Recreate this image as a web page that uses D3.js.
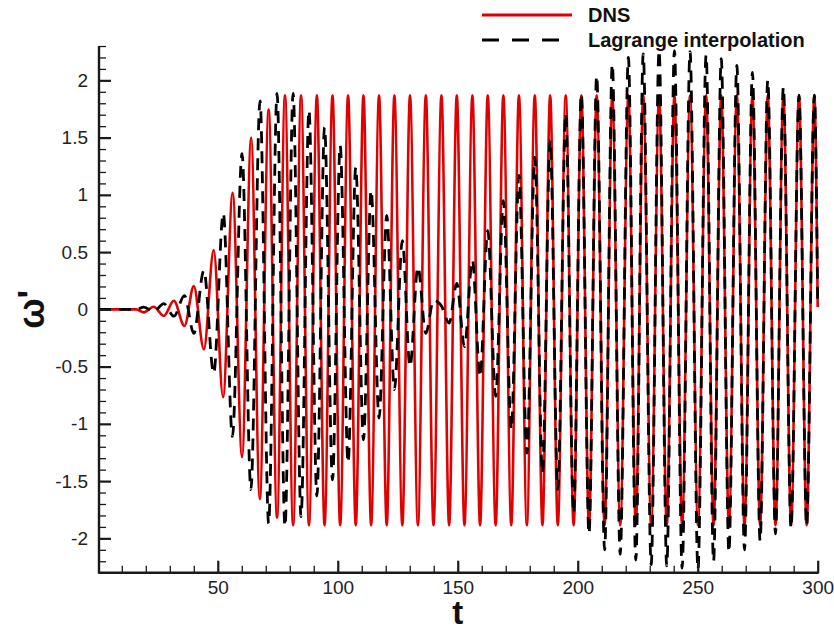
<!DOCTYPE html>
<html>
<head>
<meta charset="utf-8">
<script src="https://cdn.jsdelivr.net/npm/d3@7"></script>
<style>
  html, body { margin: 0; padding: 0; background: #fff; }
  svg { display: block; font-family: "Liberation Sans", Arial, Helvetica, sans-serif; }
</style>
</head>
<body>
<svg id="chart" width="834" height="631"></svg>
<script>
// ---- data (extrema of each oscillation) ----
const dnsTime = [0.5, 16, 19.2, 23.3, 27.5, 31.7, 36.1, 40.0, 44.2, 48.3, 52.2, 56.2, 60.1, 63.9, 67.5, 71.2, 74.7,
  78.0, 81.4, 84.7, 88.0, 91.3, 94.5, 97.8, 101.0, 104.3, 107.5, 110.7, 113.9, 117.2, 120.4, 123.6, 126.9, 130.1,
  133.4, 136.7, 139.9, 143.2, 146.4, 149.6, 152.8, 156.1, 159.3, 162.5, 165.8, 169.0, 172.3, 175.5, 178.8, 182.1,
  185.3, 188.5, 191.7, 195.0, 198.3, 201.5, 204.7, 207.9, 211.2, 214.4, 217.7, 221.1, 224.2, 227.3, 230.6, 233.9,
  237.1, 240.3, 243.5, 246.8, 250.1, 253.5, 256.6, 259.8, 263.0, 266.3, 269.5, 272.8, 276.0, 279.2, 282.4, 285.7,
  288.9, 292.2, 295.4, 298.6, 300];
const dnsOmega = [0, 0, -0.026, 0.023, -0.058, 0.075, -0.146, 0.203, -0.349, 0.517, -0.767, 1.017, -1.29, 1.50, -1.657, 1.744, -1.82,
  1.87, -1.885, 1.87, -1.885, 1.87, -1.885, 1.87, -1.885, 1.87, -1.885, 1.87, -1.885, 1.87, -1.885, 1.87, -1.885, 1.87,
  -1.885, 1.87, -1.885, 1.87, -1.885, 1.87, -1.885, 1.87, -1.885, 1.87, -1.885, 1.87, -1.885, 1.87, -1.885, 1.87,
  -1.885, 1.87, -1.885, 1.87, -1.885, 1.87, -1.885, 1.87, -1.885, 1.87, -1.885, 1.87, -1.885, 1.87, -1.885, 1.87,
  -1.885, 1.87, -1.885, 1.87, -1.885, 1.87, -1.885, 1.87, -1.885, 1.87, -1.885, 1.87, -1.885, 1.87, -1.885, 1.87,
  -1.885, 1.87, -1.885, 1.87, 0.02];

const lagTime = [0.5, 16, 19.2, 23.3, 27.5, 31.7, 36.1, 40.0, 44.2, 48.3, 52.3, 56.1, 60.1, 63.8, 67.6, 71.2, 74.7,
  78.0, 81.4, 84.7, 88.0, 91.3, 94.5, 97.8, 101.0, 104.3, 107.5, 110.7, 113.9, 117.2, 120.4, 123.6, 126.9, 130.1,
  133.4, 136.7, 139.9, 143.2, 146.4, 149.6, 152.8, 156.1, 159.3, 162.5, 165.8, 169.0, 172.3, 175.5, 178.8, 182.1,
  185.3, 188.5, 191.7, 195.0, 198.3, 201.5, 204.7, 207.9, 211.2, 214.4, 217.7, 221.1, 224.2, 227.3, 230.6, 233.9,
  237.1, 240.3, 243.5, 246.8, 250.1, 253.5, 256.6, 259.8, 263.0, 266.3, 269.5, 272.8, 276.0, 279.2, 282.4, 285.7,
  288.9, 292.2, 295.4, 298.6, 300];
const lagOmega = [0, 0, 0.02, -0.02, 0.05, -0.06, 0.12, -0.21, 0.34, -0.56, 0.84, -1.11, 1.36, -1.575, 1.82, -1.87, 1.885,
  -1.895, 1.885, -1.81, 1.737, -1.63, 1.59, -1.49, 1.43, -1.34, 1.24, -1.14, 1.04, -0.95, 0.82, -0.70, 0.60, -0.50,
  0.37, -0.21, 0.08, 0.03, -0.12, 0.227, -0.326, 0.43, -0.588, 0.69, -0.76, 0.95, -1.05, 1.17, -1.256, 1.33,
  -1.43, 1.48, -1.575, 1.71, -1.78, 1.88, -1.96, 2.04, -2.1, 2.14, -2.14, 2.20, -2.19, 2.23, -2.23, 2.26,
  -2.24, 2.26, -2.26, 2.25, -2.27, 2.22, -2.2, 2.19, -2.12, 2.13, -2.1, 2.07, -2.02, 2.0, -1.96, 1.94,
  -1.91, 1.87, -1.89, 1.87, 0.02];

const xMajorTicks = [50, 100, 150, 200, 250, 300];
const xMinorTicks = [10, 20, 30, 40, 60, 70, 80, 90, 110, 120, 130, 140, 160, 170, 180, 190, 210, 220, 230, 240, 260, 270, 280, 290];
const yMajorTicks = [-2, -1.5, -1, -0.5, 0, 0.5, 1, 1.5, 2];
const yMinorTicks = [-2.3, -2.2, -2.1, -1.9, -1.8, -1.7, -1.6, -1.4, -1.3, -1.2, -1.1, -0.9, -0.8, -0.7, -0.6, -0.4, -0.3, -0.2, -0.1,
  0.1, 0.2, 0.3, 0.4, 0.6, 0.7, 0.8, 0.9, 1.1, 1.2, 1.3, 1.4, 1.6, 1.7, 1.8, 1.9, 2.1, 2.2, 2.3];
const seriesNames = ["DNS", "Lagrange interpolation"];
const seriesColors = ["#e00000", "#000000"];

// ---- layout ----
const svg = d3.select("#chart");
const plotLeft = 99, plotRight = 817.7, plotTop = 46, plotBottom = 572.7;
const x = d3.scaleLinear().domain([0.5, 300]).range([plotLeft, plotRight]);
const y = d3.scaleLinear().domain([-2.3, 2.3]).range([plotBottom, plotTop]);
const axisColor = "#1a1a1a";

svg.append("defs").append("clipPath").attr("id", "plotclip")
  .append("rect").attr("x", plotLeft).attr("y", plotTop - 2).attr("width", plotRight - plotLeft + 4).attr("height", plotBottom - plotTop + 2);

const line = d3.line().x(d => x(d[0])).y(d => y(d[1])).curve(d3.curveMonotoneX);
const dnsData = dnsTime.map((t, i) => [t, dnsOmega[i]]);
const lagData = lagTime.map((t, i) => [t, lagOmega[i]]);

const plot = svg.append("g").attr("clip-path", "url(#plotclip)");
plot.append("path").datum(dnsData).attr("d", line)
  .attr("fill", "none").attr("stroke", seriesColors[0]).attr("stroke-width", 2.6).attr("stroke-linejoin", "round");
plot.append("path").datum(lagData).attr("d", line)
  .attr("fill", "none").attr("stroke", seriesColors[1]).attr("stroke-width", 2.8)
  .attr("stroke-dasharray", "12,8");

// ---- axes ----
const fmt = d => String(d);
const xAxisMajor = d3.axisBottom(x).tickValues(xMajorTicks).tickFormat(fmt).tickSizeInner(-12).tickSizeOuter(0).tickPadding(8);
const xAxisMinor = d3.axisBottom(x).tickValues(xMinorTicks).tickFormat("").tickSizeInner(-7).tickSizeOuter(0);
const yAxisMajor = d3.axisLeft(y).tickValues(yMajorTicks).tickFormat(fmt).tickSizeInner(-12).tickSizeOuter(0).tickPadding(11);
const yAxisMinor = d3.axisLeft(y).tickValues(yMinorTicks).tickFormat("").tickSizeInner(-7).tickSizeOuter(0);

function styleAxis(g, w) {
  g.select(".domain").remove();
  g.selectAll("line").attr("stroke", axisColor).attr("stroke-width", w);
  g.selectAll("text").attr("fill", "#222").style("font-size", "19px").style("font-family", "'Liberation Sans', Arial, sans-serif");
}
svg.append("g").attr("transform", `translate(0,${plotBottom})`).call(xAxisMinor).call(g => styleAxis(g, 1.3));
svg.append("g").attr("transform", `translate(0,${plotBottom})`).call(xAxisMajor).call(g => styleAxis(g, 2.2));
svg.append("g").attr("transform", `translate(${plotLeft},0)`).call(yAxisMinor).call(g => styleAxis(g, 1.3));
svg.append("g").attr("transform", `translate(${plotLeft},0)`).call(yAxisMajor).call(g => styleAxis(g, 2.2));

svg.append("line").attr("x1", plotLeft).attr("x2", plotRight + 1).attr("y1", plotBottom).attr("y2", plotBottom)
  .attr("stroke", axisColor).attr("stroke-width", 2.4);
svg.append("line").attr("x1", plotLeft).attr("x2", plotLeft).attr("y1", plotTop).attr("y2", plotBottom + 1)
  .attr("stroke", axisColor).attr("stroke-width", 2.4);

// ---- axis titles ----
svg.append("text").attr("x", (plotLeft + plotRight) / 2 - 0.5).attr("y", 624)
  .attr("text-anchor", "middle").attr("font-weight", "bold").attr("font-size", 33).attr("fill", "#111").text("t");
svg.append("text").attr("transform", `translate(44,${y(0)}) rotate(-90)`)
  .attr("text-anchor", "middle").attr("font-weight", "bold").attr("font-size", 36).attr("fill", "#111").text("ω'");

// ---- legend ----
const legendX1 = 482, legendX2 = 572, legendTextX = 588;
const legendY = [15, 40];
const lg = svg.append("g");
seriesNames.forEach((name, i) => {
  lg.append("line").attr("x1", legendX1).attr("x2", i === 0 ? legendX2 : legendX2 - 12)
    .attr("y1", legendY[i]).attr("y2", legendY[i])
    .attr("stroke", seriesColors[i]).attr("stroke-width", 2.8)
    .attr("stroke-dasharray", i === 0 ? null : "17,13");
  lg.append("text").attr("x", legendTextX).attr("y", legendY[i]).attr("dy", "0.36em")
    .attr("font-weight", "bold").attr("font-size", 20).attr("fill", "#111").text(name);
});
</script>
</body>
</html>
